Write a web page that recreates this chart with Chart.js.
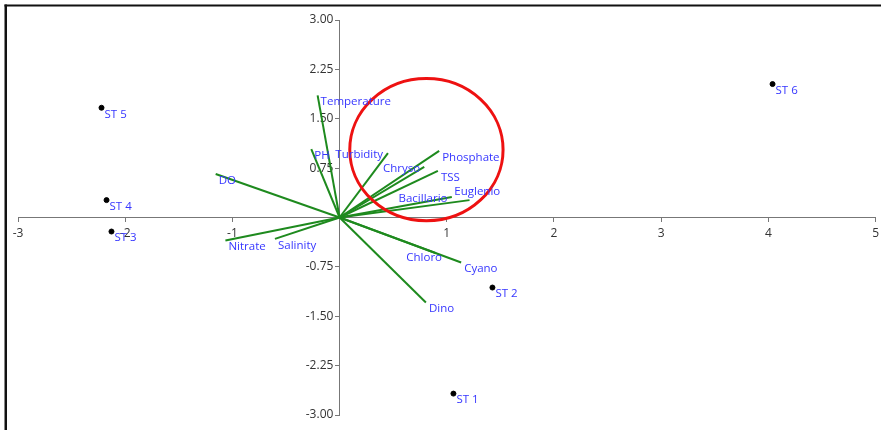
<!DOCTYPE html>
<html>
<head>
<meta charset="utf-8">
<script src="https://cdn.jsdelivr.net/npm/chart.js@4"></script>
<style>
  html, body { margin: 0; padding: 0; background: #fff; }
</style>
</head>
<body>
<canvas id="biplot" width="881" height="430"></canvas>
<script>
// station scores
const stationNames = ["ST 1", "ST 2", "ST 3", "ST 4", "ST 5", "ST 6"];
const stationX = [1.062, 1.426, -2.128, -2.174, -2.221, 4.039];
const stationY = [-2.675, -1.064, -0.213, 0.264, 1.667, 2.027];

// variable loadings, drawn as vectors from the origin
const varNames = ["Temperature", "PH", "Turbidity", "Chryso", "Phosphate", "TSS", "Bacillario",
  "Euglenio", "DO", "Nitrate", "Salinity", "Chloro", "Cyano", "Dino"];
const varX = [-0.205, -0.264, 0.451, 0.79, 0.929, 0.917, 1.047, 1.212, -1.156, -1.065, -0.603, 0.9, 1.134, 0.805];
const varY = [1.854, 1.04, 0.979, 0.77, 1.013, 0.709, 0.31, 0.264, 0.66, -0.35, -0.324, -0.543, -0.684, -1.292];

// labels the original moved away from their vector tip (data units)
const labelMoved = {
  Turbidity: [-0.04, 0.953],
  Chryso: [0.404, 0.74],
  Bacillario: [0.55, 0.28],
  Euglenio: [1.07, 0.386],
  Chloro: [0.622, -0.608],
};

const xTicks = [-3, -2, -1, 0, 1, 2, 3, 4, 5];
const yTicks = [-3, -2.25, -1.5, -0.75, 0, 0.75, 1.5, 2.25, 3];

// red highlight ellipse (centre and radii in data units)
const ringCentre = [0.81, 1.03];
const ringRadius = [0.715, 1.08];

const LABEL_BLUE = "#3636ff";
const VEC_GREEN = "#1e8a1e";
const FONT = "'Open Sans', 'Noto Sans', sans-serif";

const datasets = varNames.map((name, i) => ({
  label: name,
  data: [{ x: 0, y: 0 }, { x: varX[i], y: varY[i] }],
  showLine: true,
  borderColor: VEC_GREEN,
  borderWidth: 2,
  pointRadius: 0,
  order: 2,
}));
datasets.push({
  label: "stations",
  data: stationX.map((x, i) => ({ x, y: stationY[i] })),
  backgroundColor: "#000",
  borderColor: "#000",
  pointRadius: 2.5,
  showLine: false,
  order: 1,
});

const frame = {
  id: "frame",
  beforeDraw(chart) {
    const ctx = chart.ctx;
    ctx.save();
    ctx.fillStyle = "#111";
    ctx.fillRect(4.5, 4.5, chart.width, 2);
    ctx.fillRect(4.5, 4.5, 2.5, chart.height);
    ctx.restore();
  },
};

const annotate = {
  id: "annotate",
  afterDatasetsDraw(chart) {
    const { ctx, scales: { x, y } } = chart;
    ctx.save();
    // highlight ring
    ctx.strokeStyle = "#ee1111";
    ctx.lineWidth = 3;
    ctx.beginPath();
    const cx = x.getPixelForValue(ringCentre[0]);
    const cy = y.getPixelForValue(ringCentre[1]);
    const rx = x.getPixelForValue(ringCentre[0] + ringRadius[0]) - cx;
    const ry = cy - y.getPixelForValue(ringCentre[1] + ringRadius[1]);
    ctx.ellipse(cx, cy, rx, ry, 0, 0, Math.PI * 2);
    ctx.stroke();

    ctx.fillStyle = LABEL_BLUE;
    ctx.font = "11.5px " + FONT;
    ctx.textBaseline = "middle";
    ctx.textAlign = "left";
    const put = (text, vx, vy, moved) => {
      if (moved) {
        ctx.fillText(text, x.getPixelForValue(moved[0]), y.getPixelForValue(moved[1]));
      } else {
        ctx.fillText(text, x.getPixelForValue(vx) + 3, y.getPixelForValue(vy) + 6.5);
      }
    };
    varNames.forEach((n, i) => put(n, varX[i], varY[i], labelMoved[n]));
    stationNames.forEach((n, i) => put(n, stationX[i], stationY[i]));
    ctx.restore();
  },
};

const axisStyle = {
  grid: { drawOnChartArea: false, drawTicks: true, tickLength: 4, color: "#777", lineWidth: 1 },
  border: { display: true, color: "#777", width: 1 },
};

new Chart(document.getElementById("biplot"), {
  type: "scatter",
  data: { datasets },
  options: {
    responsive: false,
    animation: false,
    layout: { padding: { left: 18, right: 5, top: 20, bottom: 15 } },
    plugins: { legend: { display: false }, tooltip: { enabled: false } },
    scales: {
      x: {
        type: "linear",
        position: { y: 0 },
        min: xTicks[0],
        max: xTicks[xTicks.length - 1],
        afterBuildTicks: (s) => { s.ticks = xTicks.map((v) => ({ value: v })); },
        ticks: {
          autoSkip: false,
          maxRotation: 0,
          padding: 2,
          color: "#333",
          // taller line box pushes labels a bit lower without widening the end padding
          font: { family: FONT, size: 12, lineHeight: 1.65 },
          callback: (v) => (v === 0 ? "" : String(v)),
        },
        ...axisStyle,
      },
      y: {
        type: "linear",
        position: { x: 0 },
        min: yTicks[0],
        max: yTicks[yTicks.length - 1],
        afterBuildTicks: (s) => { s.ticks = yTicks.map((v) => ({ value: v })); },
        ticks: {
          autoSkip: false,
          padding: 2,
          color: "#333",
          font: { family: FONT, size: 12 },
          // centred y axis labels sit flush on the axis line, so pad them with spaces
          callback: (v) => (v === 0 ? "" : Number(v).toFixed(2) + "  "),
        },
        ...axisStyle,
      },
    },
  },
  plugins: [frame, annotate],
});
</script>
</body>
</html>
